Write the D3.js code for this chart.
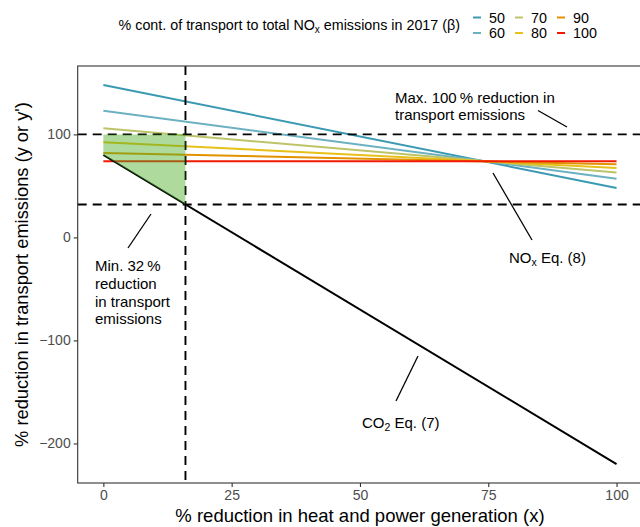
<!DOCTYPE html>
<html>
<head>
<meta charset="utf-8">
<script src="https://cdn.jsdelivr.net/npm/d3@7"></script>
<style>
  body { margin: 0; background: #fff; }
  svg { font-family: "Liberation Sans", Arial, sans-serif; }
</style>
</head>
<body>
<svg width="640" height="527"></svg>
<script>
// beta values and NOx lines (value at x = 0 and x = 100)
var betas = [50, 60, 70, 80, 90, 100];
var noxAt0 = [148, 123, 106, 92.5, 82, 74];
var noxAt100 = [48, 57, 63, 67.5, 71, 74];
var betaColors = ["#3B9AB2", "#6CB1C1", "#BDC468", "#E7C019", "#E49100", "#F21A00"];

// CO2 line ends
var co2X = [0, 100];
var co2Y = [80, -220];

// limits
var maxCut = 100, minCut = 32, xCut = 16;
var shadeX = [0, xCut, xCut, 0];
var shadeY = [maxCut, maxCut, minCut, 80];

var xTicks = [0, 25, 50, 75, 100];
var yTicks = [-200, -100, 0, 100];

var svg = d3.select("svg");
var panel = { l: 77.7, r: 642.2, t: 66, b: 483 };

var yMin = d3.min(co2Y), yMax = d3.max(noxAt0);
var pad = (yMax - yMin) * 0.05;
var x = d3.scaleLinear().domain([-5, 105]).range([panel.l, panel.r]);
var y = d3.scaleLinear().domain([yMin - pad, yMax + pad]).range([panel.b, panel.t]);

var g = svg.append("g");

// NOx lines
var nox = betas.map(function(b, i) { return { b: b, pts: [[0, noxAt0[i]], [100, noxAt100[i]]], c: betaColors[i] }; });
var line = d3.line().x(function(d) { return x(d[0]); }).y(function(d) { return y(d[1]); });

g.selectAll(".nox").data(nox).enter().append("path")
  .attr("class", "nox")
  .attr("d", function(d) { return line(d.pts); })
  .attr("stroke", function(d) { return d.c; })
  .attr("stroke-width", 2)
  .attr("fill", "none");

// CO2 line
g.append("path")
  .attr("d", line(co2X.map(function(v, i) { return [v, co2Y[i]]; })))
  .attr("stroke", "#000").attr("stroke-width", 2).attr("fill", "none");

// dashed limits
[maxCut, minCut].forEach(function(v) {
  g.append("line")
    .attr("x1", panel.l).attr("x2", panel.r).attr("y1", y(v)).attr("y2", y(v))
    .attr("stroke", "#000").attr("stroke-width", 1.9).attr("stroke-dasharray", "9,6");
});
g.append("line")
  .attr("x1", x(xCut)).attr("x2", x(xCut)).attr("y1", panel.t).attr("y2", panel.b)
  .attr("stroke", "#000").attr("stroke-width", 1.9).attr("stroke-dasharray", "9,6");

// feasible region
g.append("path")
  .attr("d", line(shadeX.map(function(v, i) { return [v, shadeY[i]]; })) + "Z")
  .attr("fill", "#4DAC26").attr("fill-opacity", 0.45);

// annotations
function note(lines, tx, ty, lx1, ly1, lx2, ly2) {
  var t = svg.append("text").attr("font-size", 15).attr("fill", "#000");
  lines.forEach(function(s, i) {
    t.append("tspan").attr("x", tx).attr("y", ty + i * 17.8).text(s);
  });
  svg.append("line").attr("x1", lx1).attr("y1", ly1).attr("x2", lx2).attr("y2", ly2)
    .attr("stroke", "#000").attr("stroke-width", 1.3);
  return t;
}
note(["Max. 100\u2009% reduction in", "transport emissions"], 395, 102.5, 538, 110.5, 567, 127);
note(["Min. 32\u2009%", "reduction", "in transport", "emissions"], 95, 271, 151, 214, 128, 248);

var nt = svg.append("text").attr("font-size", 15).attr("x", 509).attr("y", 263);
nt.append("tspan").text("NO");
nt.append("tspan").attr("font-size", 10.5).attr("dy", 3).text("x");
nt.append("tspan").attr("dy", -3).text(" Eq. (8)");
svg.append("line").attr("x1", 493).attr("y1", 173).attr("x2", 532).attr("y2", 240)
  .attr("stroke", "#000").attr("stroke-width", 1.3);

var ct = svg.append("text").attr("font-size", 15).attr("x", 362).attr("y", 428);
ct.append("tspan").text("CO");
ct.append("tspan").attr("font-size", 10.5).attr("dy", 3).text("2");
ct.append("tspan").attr("dy", -3).text(" Eq. (7)");
svg.append("line").attr("x1", 418).attr("y1", 356).attr("x2", 396).attr("y2", 401)
  .attr("stroke", "#000").attr("stroke-width", 1.3);

// panel border
svg.append("rect").attr("x", panel.l).attr("y", panel.t).attr("width", panel.r - panel.l).attr("height", panel.b - panel.t)
  .attr("fill", "none").attr("stroke", "#333").attr("stroke-width", 1.1);

// axes
var xAxis = svg.append("g").attr("transform", "translate(0," + panel.b + ")")
  .call(d3.axisBottom(x).tickValues(xTicks).tickSize(4).tickPadding(3));
var yAxis = svg.append("g").attr("transform", "translate(" + panel.l + ",0)")
  .call(d3.axisLeft(y).tickValues(yTicks).tickSize(4).tickPadding(3).tickFormat(function(d) { return d < 0 ? "\u2212" + (-d) : d; }));
[xAxis, yAxis].forEach(function(a) {
  a.select(".domain").remove();
  a.selectAll(".tick line").attr("stroke", "#333").attr("stroke-width", 1.1);
  a.selectAll(".tick text").attr("fill", "#4d4d4d").attr("font-size", 14)
    .attr("font-family", "Liberation Sans, Arial, sans-serif");
});

svg.append("text").attr("x", (panel.l + panel.r) / 2).attr("y", 522).attr("text-anchor", "middle")
  .attr("font-size", 18.5).text("% reduction in heat and power generation (x)");
svg.append("text").attr("transform", "translate(28," + (panel.t + panel.b) / 2 + ") rotate(-90)")
  .attr("text-anchor", "middle").attr("font-size", 18.3).text("% reduction in transport emissions (y or y')");

// legend
var lt = svg.append("text").attr("x", 0).attr("y", 30).attr("font-size", 14.3);
lt.append("tspan").text("% cont. of transport to total NO");
lt.append("tspan").attr("font-size", 10).attr("dy", 3).text("x");
lt.append("tspan").attr("dy", -3).text(" emissions in 2017 (\u03b2)");
var ltw = lt.node().getBBox().width;
lt.attr("x", 460 - ltw);

var leg = svg.append("g").selectAll("g").data(nox).enter().append("g")
  .attr("transform", function(d, i) { return "translate(" + (473 + Math.floor(i / 2) * 42) + "," + (17.5 + (i % 2) * 15.5) + ")"; });
leg.append("line").attr("x1", 0).attr("x2", 8).attr("stroke", function(d) { return d.c; }).attr("stroke-width", 2);
leg.append("text").attr("x", 16).attr("dy", "0.35em").attr("font-size", 14.3).text(function(d) { return d.b; });
</script>
</body>
</html>
